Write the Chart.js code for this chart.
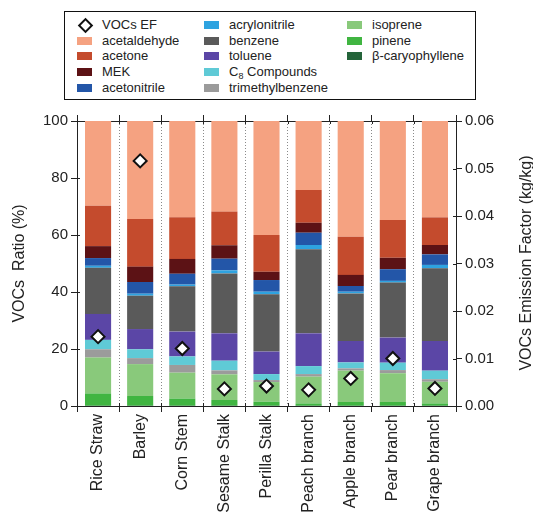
<!DOCTYPE html>
<html>
<head>
<meta charset="utf-8">
<script src="https://cdn.jsdelivr.net/npm/chart.js@4/dist/chart.umd.min.js"></script>
<style>
  html, body { margin: 0; padding: 0; background: #fff; }
  #wrap { position: relative; width: 533px; height: 513px; overflow: hidden; }
  #chart { position: absolute; left: 0; top: 0; }
  #legend {
    position: absolute; left: 64px; top: 11px; width: 410px; height: 87px;
    border: 1px solid #111; background: #fff;
    font: 13px "Liberation Sans", Arial, sans-serif; color: #222;
  }
  .item { position: absolute; height: 16px; line-height: 16px; white-space: nowrap; }
  .sw { position: absolute; left: 0; top: 4px; width: 15px; height: 8px; }
  .dm { position: absolute; left: 3px; top: 3px; width: 7px; height: 7px;
        border: 2px solid #111; background: #fff; transform: rotate(45deg); }
  .lbl { position: absolute; left: 25px; top: 0; }
  .lbl sub { font-size: 9px; line-height: 0; vertical-align: -3px; }
  #rtitle {
    position: absolute; left: 377px; top: 253px; width: 300px; height: 20px;
    line-height: 20px; text-align: center; transform: rotate(-90deg);
    font: 16px "Liberation Sans", Arial, sans-serif; color: #222;
  }
</style>
</head>
<body>
<div id="wrap">
  <canvas id="chart" width="533" height="513"></canvas>
  <div id="legend"></div>
  <div id="rtitle">VOCs Emission Factor (kg/kg)</div>
</div>
<script>
// Biomass types (x categories)
const categories = ['Rice Straw', 'Barley', 'Corn Stem', 'Sesame Stalk', 'Perilla Stalk',
                    'Peach branch', 'Apple branch', 'Pear branch', 'Grape branch'];

// VOC composition, % of total (stacked from the bottom up)
const betaCaryophyllene = [0.1, 0.1, 0.1, 0.1, 0.1, 0.1, 0.1, 0.1, 0.1];
const pinene            = [4.3, 3.4, 2.5, 2.0, 1.4, 0.8, 1.3, 1.3, 0.8];
const isoprene          = [12.6, 11.2, 9.1, 9.0, 6.9, 9.4, 11.0, 10.1, 7.6];
const trimethylbenzene  = [2.9, 2.1, 2.7, 1.4, 0.7, 0.9, 0.8, 1.1, 0.9];
const c8Compounds       = [3.3, 3.1, 3.0, 3.4, 2.1, 2.8, 2.1, 2.6, 3.0];
const toluene           = [9.1, 7.1, 8.7, 9.6, 7.9, 11.5, 7.5, 8.8, 10.4];
const benzene           = [16.2, 11.7, 15.9, 21.0, 20.1, 29.5, 16.7, 19.3, 25.5];
const acrylonitrile     = [0.7, 0.7, 0.6, 1.1, 0.9, 1.5, 0.6, 0.6, 1.2];
const acetonitrile      = [2.7, 4.1, 3.8, 4.1, 4.1, 4.3, 2.0, 4.1, 3.7];
const mek               = [4.2, 5.4, 5.2, 4.7, 2.9, 3.5, 3.9, 4.0, 3.3];
const acetone           = [14.2, 16.7, 14.6, 11.8, 12.9, 11.5, 13.4, 13.3, 9.7];
const acetaldehyde      = [29.7, 34.4, 33.8, 31.8, 40.0, 24.2, 40.6, 34.7, 33.8];

// Total VOCs emission factor, kg/kg (right axis)
const vocsEF = [0.0146, 0.0516, 0.0121, 0.0036, 0.0042, 0.0034, 0.0058, 0.0100, 0.0037];

// Axis tick labels
const ratioTicks = [0, 20, 40, 60, 80, 100];
const efTicks = ['0.00', '0.01', '0.02', '0.03', '0.04', '0.05', '0.06'];

// Species drawn as stacked bars, bottom first
const species = [
  { label: 'β-caryophyllene',  html: 'β-caryophyllene',              data: betaCaryophyllene, color: '#24643a' },
  { label: 'pinene',           html: 'pinene',                       data: pinene,            color: '#40b541' },
  { label: 'isoprene',         html: 'isoprene',                     data: isoprene,          color: '#89c97b' },
  { label: 'trimethylbenzene', html: 'trimethylbenzene',             data: trimethylbenzene,  color: '#9b9b9b' },
  { label: 'C8 Compounds',     html: 'C<sub>8</sub> Compounds',      data: c8Compounds,       color: '#5fcad6' },
  { label: 'toluene',          html: 'toluene',                      data: toluene,           color: '#5b46a6' },
  { label: 'benzene',          html: 'benzene',                      data: benzene,           color: '#5a5a5a' },
  { label: 'acrylonitrile',    html: 'acrylonitrile',                data: acrylonitrile,     color: '#2ea3e0' },
  { label: 'acetonitrile',     html: 'acetonitrile',                 data: acetonitrile,      color: '#2356a8' },
  { label: 'MEK',              html: 'MEK',                          data: mek,               color: '#5c1215' },
  { label: 'acetone',          html: 'acetone',                      data: acetone,           color: '#c44b2d' },
  { label: 'acetaldehyde',     html: 'acetaldehyde',                 data: acetaldehyde,      color: '#f5a281' }
];

const barSets = species.map(s => ({
  type: 'bar',
  label: s.label,
  data: s.data,
  backgroundColor: s.color,
  borderWidth: 0,
  yAxisID: 'y',
  xAxisID: 'x',
  stack: 'voc',
  barPercentage: 0.62,
  categoryPercentage: 1.0,
  order: 2
}));

const efSet = {
  type: 'line',
  label: 'VOCs EF',
  data: vocsEF,
  yAxisID: 'y1',
  xAxisID: 'x',
  showLine: false,
  pointStyle: 'rectRot',
  pointRadius: 6.5,
  pointHoverRadius: 6.5,
  pointBackgroundColor: '#ffffff',
  pointBorderColor: '#111111',
  pointBorderWidth: 2,
  order: 1
};

const axisColor = '#222';
const tickFont = { family: '"Liberation Sans", Arial, sans-serif', size: 15 };

// Short tick stubs on the inner side of every axis, so ticks cross the frame
const innerTicks = {
  id: 'innerTicks',
  afterDraw(chart) {
    const { ctx, chartArea: a, scales } = chart;
    const len = 3;
    ctx.save();
    ctx.strokeStyle = axisColor;
    ctx.lineWidth = 1;
    ctx.beginPath();
    scales.y.ticks.forEach(t => {
      const py = Math.round(scales.y.getPixelForValue(t.value)) + 0.5;
      ctx.moveTo(a.left, py); ctx.lineTo(a.left + len, py);
    });
    scales.y1.ticks.forEach(t => {
      const py = Math.round(scales.y1.getPixelForValue(t.value)) + 0.5;
      ctx.moveTo(a.right, py); ctx.lineTo(a.right - len, py);
    });
    const n = chart.data.labels.length;
    for (let i = 0; i <= n; i++) {
      const c = i < n ? scales.x.getPixelForTick(i) : scales.x.getPixelForTick(n - 1);
      const half = (scales.x.getPixelForTick(1) - scales.x.getPixelForTick(0)) / 2;
      const px = Math.round(i < n ? c - half : c + half) + 0.5;
      ctx.moveTo(px, a.bottom); ctx.lineTo(px, a.bottom - len);
      ctx.moveTo(px, a.top); ctx.lineTo(px, a.top + len);
    }
    ctx.stroke();
    ctx.restore();
  }
};

new Chart(document.getElementById('chart'), {
  data: { labels: categories, datasets: [...barSets, efSet] },
  plugins: [innerTicks],
  options: {
    responsive: false,
    animation: false,
    devicePixelRatio: 1,
    layout: { padding: { top: 115, left: 0, right: 0, bottom: 0 } },
    plugins: { legend: { display: false }, tooltip: { enabled: false } },
    scales: {
      x: {
        type: 'category',
        position: 'bottom',
        stacked: true,
        offset: true,
        grid: {
          offset: true,
          drawOnChartArea: true,
          color: '#8a8a8a',
          lineWidth: 1,
          drawTicks: true,
          tickLength: 6,
          tickColor: axisColor,
          tickWidth: 1,
          tickBorderDash: []
        },
        border: { display: true, color: axisColor, width: 1, dash: [1, 2] },
        ticks: {
          color: axisColor,
          font: { family: '"Liberation Sans", Arial, sans-serif', size: 16 },
          maxRotation: 90, minRotation: 90,
          padding: 2,
          autoSkip: false
        },
        afterFit: s => { s.height = 107; }
      },
      xTop: {
        type: 'category',
        position: 'top',
        offset: true,
        grid: {
          offset: true,
          drawOnChartArea: false,
          drawTicks: true,
          tickLength: 6,
          tickColor: axisColor
        },
        border: { display: true, color: axisColor, width: 1 },
        ticks: { display: false },
        afterFit: s => { s.height = 6; }
      },
      y: {
        position: 'left',
        stacked: true,
        min: 0, max: 100,
        afterBuildTicks: s => { s.ticks = ratioTicks.map(v => ({ value: v })); },
        grid: { drawOnChartArea: false, drawTicks: true, tickLength: 6, tickColor: axisColor },
        border: { display: true, color: axisColor, width: 1 },
        ticks: { color: axisColor, font: tickFont, padding: 3 },
        title: {
          display: true,
          text: 'VOCs  Ratio (%)',
          color: axisColor,
          font: { family: '"Liberation Sans", Arial, sans-serif', size: 16 },
          padding: { top: 10, bottom: 0 }
        },
        afterFit: s => { s.width = 77; }
      },
      y1: {
        position: 'right',
        min: 0, max: 0.06,
        afterBuildTicks: s => { s.ticks = efTicks.map(v => ({ value: parseFloat(v) })); },
        grid: { drawOnChartArea: false, drawTicks: true, tickLength: 6, tickColor: axisColor },
        border: { display: true, color: axisColor, width: 1 },
        ticks: {
          color: axisColor, font: tickFont, padding: 3,
          callback: v => Number(v).toFixed(2)
        },
        afterFit: s => { s.width = 77; }
      }
    }
  }
});

// Legend: three columns, listed top of the stack first
const legendBox = document.getElementById('legend');
const legendEntries = [{ marker: true, html: 'VOCs EF' }]
  .concat(species.slice().reverse().map(s => ({ color: s.color, html: s.html })));
const colX = [12, 139, 282];
const rowY = [5, 21, 36, 52, 68];
legendEntries.forEach((e, i) => {
  const col = Math.floor(i / 5), row = i % 5;
  const item = document.createElement('div');
  item.className = 'item';
  item.style.left = colX[col] + 'px';
  item.style.top = rowY[row] + 'px';
  const mark = document.createElement('div');
  if (e.marker) { mark.className = 'dm'; }
  else { mark.className = 'sw'; mark.style.background = e.color; }
  const lbl = document.createElement('span');
  lbl.className = 'lbl';
  lbl.innerHTML = e.html;
  item.appendChild(mark);
  item.appendChild(lbl);
  legendBox.appendChild(item);
});
</script>
</body>
</html>
